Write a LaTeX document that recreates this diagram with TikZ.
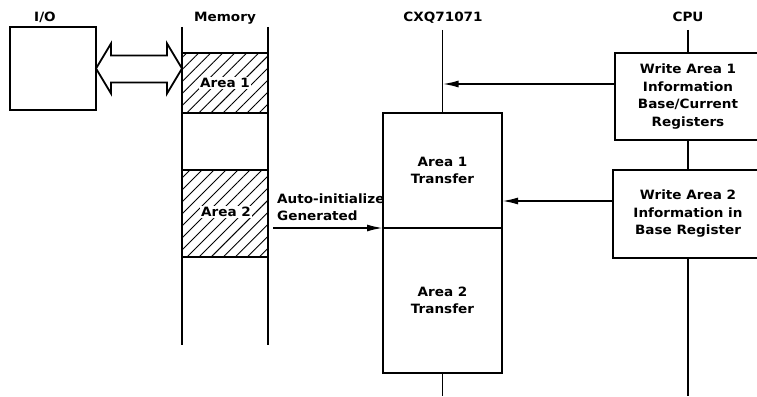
\documentclass[tikz,border=0pt]{standalone}
\usepackage{fontspec}
\newfontfamily\diafont{DejaVu Sans}[FakeStretch=1.06]
\usepackage{tikz}
\usetikzlibrary{arrows.meta,positioning,calc,patterns.meta}
\tikzset{
  box/.style={draw,line width=2.4pt,align=center,inner sep=0pt,outer sep=0pt},
  hatch/.style={draw,line width=2pt,outer sep=0pt,pattern={Lines[angle=45,distance=8.5pt,line width=0.9pt]}},
  lbl/.style={fill=white,inner sep=1.5pt},
  ln/.style={line width=1.8pt},
  arr/.style={-{Latex[length=16pt,width=7pt]},line width=1.8pt},
}
\begin{document}
\begin{tikzpicture}[x=1pt,y=-1pt,font=\diafont\bfseries\fontsize{12.8}{17.5}\selectfont]
\clip (0,0) rectangle (757,396);
\useasboundingbox (0,0) rectangle (757,396);
% I/O and memory
\node[box,minimum width=86,minimum height=83] (io) at (53,68.5) {};
\node (iolbl) at (45,17) {I/O};
\node (memlbl) at (225,18) {Memory};
\draw[ln] (182,27) -- (182,345);
\draw[ln] (268,27) -- (268,345);
\node[hatch,minimum width=86,minimum height=60,label={[lbl]center:Area 1}] (area1) at (225,83) {};
\node[hatch,minimum width=86,minimum height=87] (area2) at (225,213.5) {};
\node[lbl] (a2lbl) at (226,212) {Area 2};
% open double arrow between I/O and memory
\draw[ln,fill=white,line join=miter] (io.east) -- ++(15,-25) -- ++(0,12) -- ++(56,0) -- ++(0,-12)
  -- (area1.west |- io.east) -- ++(-15,25) -- ++(0,-11) -- ++(-56,0) -- ++(0,11) -- cycle;
% CXQ71071
\node (cxqlbl) at (443,18) {CXQ71071};
\node[box,minimum width=119,minimum height=115] (xfer1) at (442.5,170.5) {Area 1\\Transfer};
\node[box,minimum width=119,minimum height=145,below=0pt of xfer1] (xfer2) {Area 2\\Transfer};
\coordinate (cxqtop) at (442.5,30);
\coordinate (cxqbot) at (442.5,396);
\coordinate (cxqtap) at (442.5,84);
\draw[ln] (cxqtop) -- (xfer1.north);
\draw[ln] (xfer2.south) -- (cxqbot);
% CPU
\node (cpulbl) at (688,17) {CPU};
\node[box,minimum width=146,minimum height=87] (wr1) at (688,96.5) {Write Area 1\\Information\\Base/Current\\Registers};
\node[box,minimum width=150,minimum height=88] (wr2) at (688,214) {Write Area 2\\Information in\\Base Register};
\coordinate (cputop) at (688,30);
\coordinate (cpubot) at (688,396);
\coordinate (wr2tap) at (613,201);
\draw[ln] (cputop) -- (wr1.north);
\draw[ln] (wr1.south) -- (wr2.north);
\draw[ln] (wr2.south) -- (cpubot);
% connectors
\draw[arr] (wr1.west |- cxqtap) -- (cxqtap);
\draw[arr] (wr2tap) -- (xfer1.east |- wr2tap);
\node[align=left,anchor=west,inner sep=0pt] (autolbl) at (277,207) {Auto-initialize\\Generated};
\draw[arr] ($(area2.east |- xfer1.south west)+(5,0)$) -- (xfer1.south west);
\end{tikzpicture}
\end{document}
